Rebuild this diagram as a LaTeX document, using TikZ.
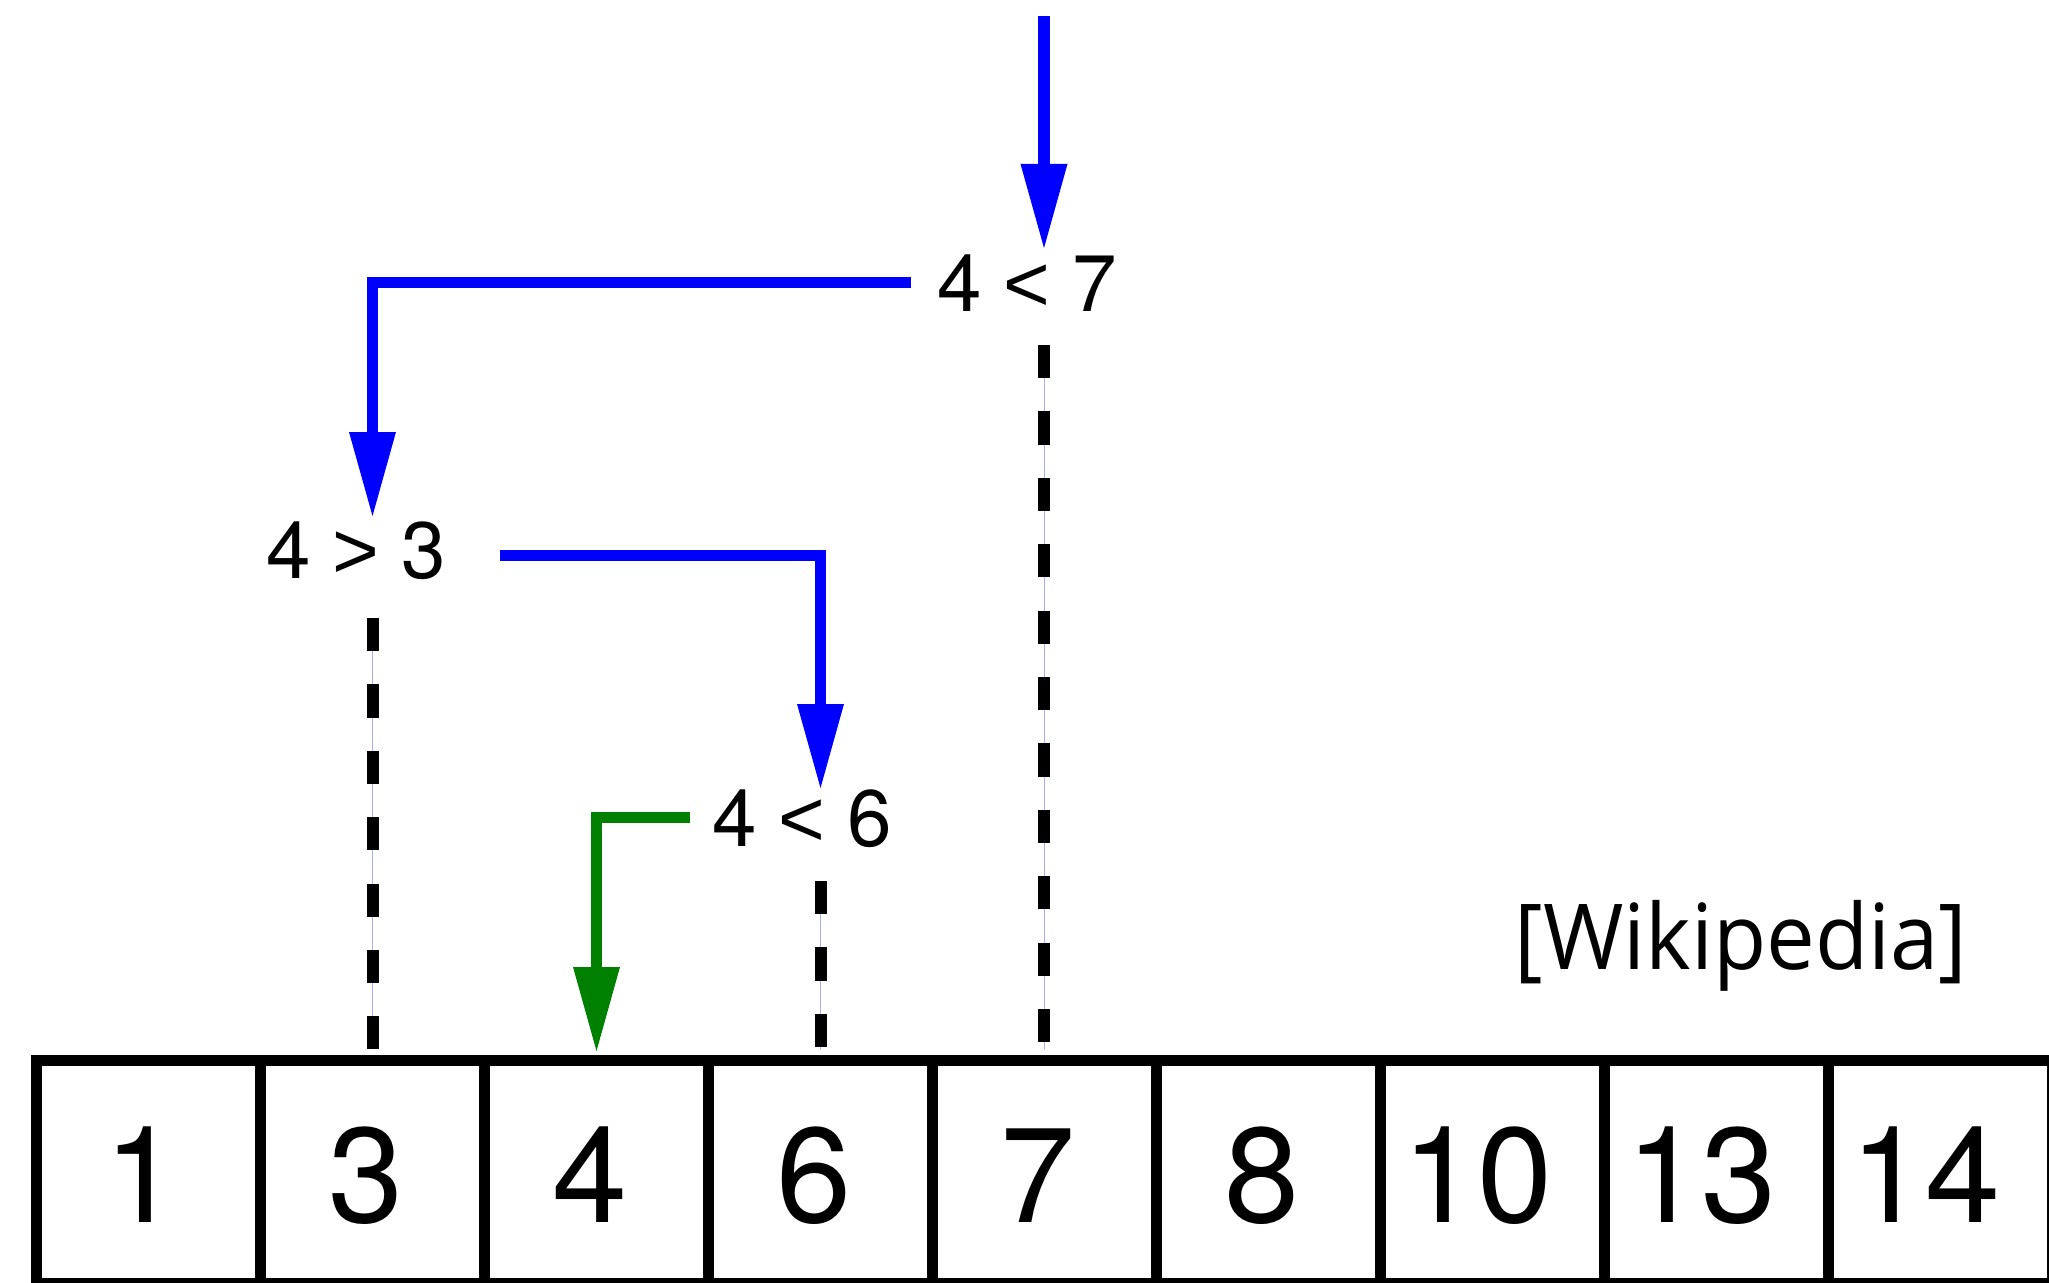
\documentclass[tikz,border=0pt]{standalone}
\usepackage{fontspec}
\setmainfont{TeX Gyre Heros}
\newfontfamily\symfont{Liberation Sans}
\newfontfamily\wikifont{Open Sans}
\usetikzlibrary{arrows.meta}
\definecolor{arrblue}{RGB}{0,0,255}
\definecolor{arrgreen}{RGB}{0,128,0}
\definecolor{guideblue}{RGB}{170,170,255}
\newcommand{\lessglyph}{{\symfont<}}
\newcommand{\moreglyph}{{\symfont>}}
\begin{document}
\begin{tikzpicture}[x=0.5pt,y=-0.5pt,
  cmp/.style={anchor=base west, inner sep=0pt, outer sep=0pt, font=\fontsize{40pt}{48pt}\selectfont},
  cellbox/.style={draw, line width=5.5pt, minimum width=112pt, minimum height=111.5pt, inner sep=0pt, outer sep=0pt},
  cellnum/.style={anchor=base, inner sep=0pt, font=\fontsize{67.5pt}{80pt}\selectfont},
  flow/.style={line width=5.5pt, line join=miter, -{Triangle[length=42pt,width=23.5pt,line width=0pt]}},
  guide/.style={draw=guideblue, line width=0.5pt},
  probe/.style={line width=6pt, dash pattern=on 16.6pt off 16.6pt},
  src/.style={anchor=base west, inner sep=0pt, font=\wikifont\fontsize{45.5pt}{54pt}\selectfont}
]
\useasboundingbox (0,0) rectangle (2049,1283);
\clip (0,0) rectangle (2049,1283);
\fill[white] (0,0) rectangle (2049,1283);

% comparison labels
\node[cmp] (c7) at (937,312) {4 \lessglyph{} 7};
\node[cmp] (c3) at (266,578) {4 \moreglyph{} 3};
\node[cmp] (c6) at (712,846) {4 \lessglyph{} 6};
\node[src] (wiki) at (1514,969) {\scalebox{0.955}[1]{[Wikipedia]}};

% array cells
\foreach \i in {0,...,8} {
  \node[cellbox] (cell\i) at ({148.5+224*\i},1172) {};
}
\foreach \v/\dx [count=\i from 0] in {1/-3,3/-3,4/-3,6/-3,7/-3,8/-3,10/-7.5,13/-7.5,14/-7.5} {
  \node[cellnum, xshift=\dx pt, yshift=-25pt] (num\i) at (cell\i.center) {\v};
}

% coordinates of connector ends
\coordinate (start) at (1044,16);
\coordinate (tip7) at (1044,248);
\coordinate (out7) at (911,283);
\coordinate (tip3) at (372.5,516);
\coordinate (out3) at (500,555);
\coordinate (tip6) at (820.5,788);
\coordinate (out6) at (690,817.5);
\coordinate (tip4) at (596.5,1051);
\coordinate (d7a) at (1044,345);
\coordinate (d7b) at (1044,1049);
\coordinate (d3a) at (372.5,618);
\coordinate (d3b) at (372.5,1049);
\coordinate (d6a) at (820.5,881);
\coordinate (d6b) at (820.5,1049);

% dashed probes
\foreach \a/\b in {d7a/d7b,d3a/d3b,d6a/d6b} {
  \draw[guide] (\a) -- (\b);
  \draw[probe] (\a) -- (\b);
}

% search path arrows
\draw[flow, color=arrblue, line width=6pt] (start) -- (tip7);
\draw[flow, color=arrblue] (out7) -| (tip3);
\draw[flow, color=arrblue] (out3) -| (tip6);
\draw[flow, color=arrgreen] (out6) -| (tip4);
\end{tikzpicture}
\end{document}
